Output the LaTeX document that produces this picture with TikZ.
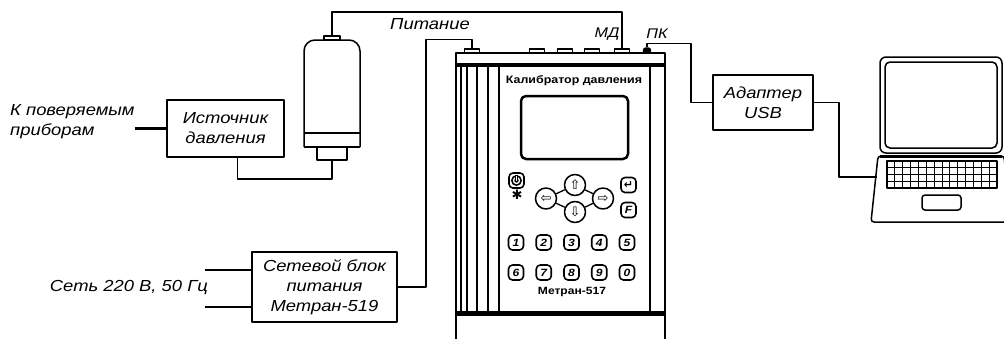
\documentclass[tikz,border=0pt]{standalone}
\usepackage{fontspec}
\setmainfont{Liberation Sans}[FakeStretch=1.15]
\newfontfamily\symfont{DejaVu Sans}
\usetikzlibrary{positioning}

\tikzset{
  wire/.style={line width=1.5pt},
  unitbox/.style={draw, line width=1.5pt, align=center, inner sep=0pt, font=\fontsize{16}{20}\selectfont\itshape},
  caption/.style={align=left, inner sep=0pt, font=\fontsize{16}{20}\selectfont\itshape},
  port/.style={draw, line width=1.2pt, minimum width=15pt, minimum height=4pt, inner sep=0pt},
  keycap/.style={draw, line width=1.6pt, rounded corners=4pt, minimum size=15pt, inner sep=0pt, font=\fontsize{10.5}{10.5}\selectfont\bfseries\itshape},
  navkey/.style={draw, circle, line width=1.5pt, minimum size=21pt, inner sep=0pt, font=\symfont\fontsize{13}{13}\selectfont},
}

\begin{document}
\begin{tikzpicture}[x=1pt, y=-1pt, line join=round]
  \useasboundingbox (0,0) rectangle (1004,338);
  \clip (0,0) rectangle (1004,338);

  %% blocks with text inside
  \node[unitbox, minimum width=117, minimum height=57] (src) at (225.5,128.5) {Источник\\давления};
  \node[unitbox, minimum width=145, minimum height=70] (psu) at (324.5,287) {Сетевой блок\\питания\\Метран-519};
  \node[unitbox, minimum width=100, minimum height=55] (usb) at (763,102.5) {Адаптер\\USB};

  %% free labels
  \node[caption, anchor=west] (dut) at (10,122) {К поверяемым\\приборам};
  \node[caption, anchor=east] (mains) at (208,288) {Сеть 220 В, 50 Гц};
  \node[caption] (pwrlbl) at (430,24) {Питание};
  \node[caption, font=\fontsize{14}{14}\selectfont\itshape] (mdlbl) at (607,34) {МД};
  \node[caption, font=\fontsize{14}{14}\selectfont\itshape] (pclbl) at (657,34) {ПК};

  %% pressure module
  \draw[wire, rounded corners=11] (304,147) -- (304,40) -- (360,40) -- (360,147);
  \draw[wire] (304,147) -- (360,147);
  \draw[wire] (304,133) -- (360,133);
  \draw[wire] (317,147) rectangle (347,160);
  \draw[wire] (324,36) rectangle (340,40);
  \coordinate (modtop) at (332,36);
  \coordinate (modbot) at (332,160);

  %% calibrator body
  \draw[wire] (456,345) -- (456,53) -- (665,53) -- (665,345);
  \draw[line width=4pt] (456,65) -- (665,65);
  \draw[line width=5pt] (456,313) -- (665,313);
  \foreach \x in {461,467,477,488,499,650}
    \draw[line width=1.2pt] (\x,67) -- (\x,311);
  \foreach \x/\name in {472/pwr,537/p2,565/p3,592/p4,622/md}
    \node[port] (\name) at (\x,51) {};
  \node[port, minimum width=7pt, minimum height=5pt, fill=black, rounded corners=2pt] (pc) at (647,50.5) {};

  %% front panel
  \node[font=\fontsize{10.8}{11}\selectfont\bfseries] (title) at (574,81) {Калибратор давления};
  \draw[line width=2.5pt, rounded corners=5] (521,96) rectangle (628,159);
  \node[keycap] (onoff) at (516.5,180.5) {};
  \fill (onoff.center) circle (5.5);
  \draw[white, line width=1.3pt] (onoff.center) circle (3);
  \draw[line width=2.6pt] (onoff.center) -- ++(0,-5.5);
  \draw[white, line width=1.1pt] (onoff.center) -- ++(0,-4.5);
  \node[font=\symfont\fontsize{13}{13}\selectfont\bfseries, inner sep=0pt] (light) at (517,195) {✱};
  \node[navkey] (up) at (575,185) {⇧};
  \node[navkey] (dn) at (575,212) {⇩};
  \node[navkey] (lt) at (546,198.5) {⇦};
  \node[navkey] (rt) at (603,198.5) {⇨};
  \draw[line width=1.3pt] (up) -- (lt) (up) -- (rt) (dn) -- (lt) (dn) -- (rt);
  \node[keycap, font=\symfont\fontsize{11}{11}\selectfont\bfseries] (enter) at (628.5,185) {↵};
  \node[keycap] (fkey) at (628.5,210) {F};
  \foreach \d [count=\i from 0] in {1,2,3,4,5}
    \node[keycap] (k\d) at (516+27.75*\i,242.5) {\d};
  \foreach \d [count=\i from 0] in {6,7,8,9,0}
    \node[keycap] (k\d) at (516+27.75*\i,272.5) {\d};
  \node[font=\fontsize{10.5}{11}\selectfont\bfseries] (model) at (572,292) {Метран-517};

  %% laptop
  \draw[wire, rounded corners=6] (880,57) rectangle (1002,153);
  \draw[wire, rounded corners=5] (885,62) rectangle (997,148);
  \draw[wire, rounded corners=3] (878,156) -- (1004,156) -- (1011,222) -- (871,222) -- cycle;
  \draw[line width=3pt] (880,156) -- (1002,156);
  \draw[line width=1.2pt] (887,161) rectangle (997,188);
  \foreach \c in {1,...,13}
    \draw[line width=0.8pt] (887+\c*110/14,161) -- ++(0,27);
  \foreach \r in {1,2,3}
    \draw[line width=0.8pt] (887,161+\r*6.75) -- ++(110,0);
  \draw[wire, rounded corners=3] (922,195) rectangle (961,210);
  \coordinate (lap) at (877,177);

  %% connections
  \coordinate (dutend) at (135,128.5);
  \draw[line width=2.5pt] (dutend) -- (src.west);
  \draw[wire] ([xshift=12pt]src.south) -- ++(0,21) -| (modbot);
  \draw[wire] (modtop) -- ++(0,-24) -| (md.north);
  \draw[wire] (psu.east) -- ++(28,0) |- ([yshift=9pt]pwr.north) -- (pwr.north);
  \coordinate (l1) at (205,270);
  \coordinate (l2) at (205,307);
  \draw[wire] (l1) -- (l1 -| psu.west);
  \draw[wire] (l2) -- (l2 -| psu.west);
  \draw[wire] (pc.north) -- ++(0,-4) -- ++(44,0) |- (usb.west);
  \draw[wire] (usb.east) -- ++(25,0) |- (lap);
\end{tikzpicture}
\end{document}
